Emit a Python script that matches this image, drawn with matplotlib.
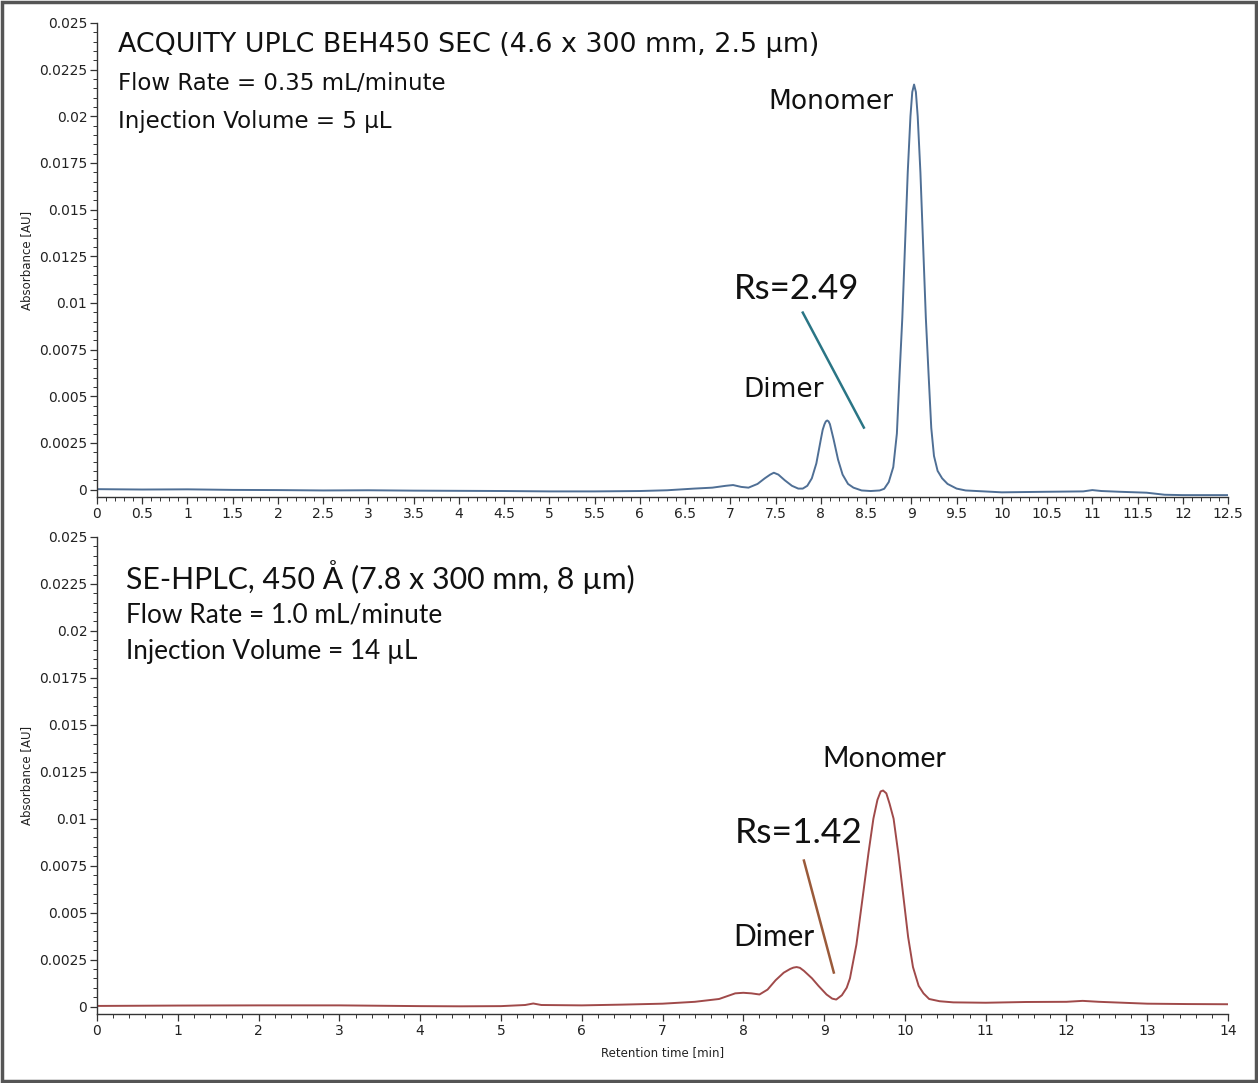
import matplotlib
matplotlib.use("Agg")
import matplotlib.pyplot as plt
from matplotlib.ticker import MultipleLocator, FuncFormatter
from matplotlib.patches import Rectangle

# ---- data ----
# top: ACQUITY UPLC BEH450 SEC
t_uplc = [0, 0.5, 1, 1.5, 2, 2.5, 3, 3.5, 4, 4.5, 5, 5.5, 6, 6.3, 6.6, 6.8, 6.95, 7.03, 7.12,
          7.2, 7.3, 7.38, 7.44, 7.48, 7.53, 7.6, 7.68, 7.75, 7.8, 7.85, 7.9, 7.95, 8.0, 8.02,
          8.04, 8.055, 8.07, 8.085, 8.1, 8.12, 8.14, 8.19, 8.24, 8.3, 8.36, 8.45, 8.55, 8.65,
          8.7, 8.75, 8.8, 8.84, 8.87, 8.9, 8.93, 8.96, 8.99, 9.01, 9.03, 9.05, 9.07, 9.1, 9.13,
          9.16, 9.19, 9.22, 9.25, 9.29, 9.34, 9.4, 9.5, 9.6, 9.8, 10, 10.5, 10.9, 11.0, 11.1,
          11.3, 11.6, 11.8, 12, 12.5]
a_uplc = [0.00002, 0.0, 0.00001, -0.00002, -0.00003, -0.00005, -0.00004, -0.00006, -0.00007,
          -0.00008, -0.0001, -0.0001, -0.00008, -0.00004, 0.00005, 0.0001, 0.0002, 0.00024,
          0.00014, 0.0001, 0.0003, 0.0006, 0.0008, 0.0009, 0.0008, 0.0005, 0.0002, 0.00005,
          0.00005, 0.0002, 0.0006, 0.0014, 0.0027, 0.0032, 0.0035, 0.00365, 0.0037, 0.00365,
          0.0035, 0.0031, 0.0027, 0.0016, 0.0008, 0.0003, 0.0001, -0.00005, -0.00008, -0.00005,
          0.00004, 0.0004, 0.0012, 0.003, 0.0062, 0.0092, 0.0131, 0.017, 0.02, 0.0213, 0.0217,
          0.0213, 0.02, 0.017, 0.0131, 0.0092, 0.0062, 0.0033, 0.0018, 0.001, 0.0006, 0.0003,
          0.00005, -0.00005, -0.0001, -0.00015, -0.00012, -0.0001, -0.00003, -0.00008,
          -0.00012, -0.00017, -0.00028, -0.0003, -0.0003]

# bottom: SE-HPLC 450 A
t_hplc = [0, 1, 2, 3, 4, 4.5, 5, 5.3, 5.4, 5.5, 6, 6.5, 7, 7.4, 7.7, 7.9, 8.0, 8.1, 8.2, 8.3,
          8.4, 8.5, 8.58, 8.62, 8.66, 8.7, 8.75, 8.85, 8.93, 9.03, 9.1, 9.15, 9.22, 9.28, 9.32,
          9.4, 9.48, 9.55, 9.61, 9.66, 9.7, 9.73, 9.77, 9.81, 9.86, 9.92, 9.98, 10.04, 10.1,
          10.17, 10.23, 10.3, 10.43, 10.6, 11, 11.5, 12, 12.2, 12.4, 13, 13.5, 14]
a_hplc = [0.00003, 0.00005, 0.00006, 0.00006, 0.00002, 0.00001, 0.00002, 0.00008, 0.00016,
          0.00008, 0.00006, 0.0001, 0.00015, 0.00025, 0.0004, 0.0007, 0.00073, 0.0007, 0.00064,
          0.0009, 0.0014, 0.0018, 0.002, 0.00207, 0.0021, 0.00206, 0.0019, 0.0015, 0.0011,
          0.00064, 0.00042, 0.00037, 0.0006, 0.001, 0.0015, 0.0033, 0.0059, 0.0082, 0.01, 0.011,
          0.01145, 0.0115, 0.01135, 0.0108, 0.01, 0.0081, 0.0059, 0.0037, 0.0021, 0.0011, 0.0007,
          0.0004, 0.00028, 0.00022, 0.0002, 0.00024, 0.00025, 0.0003, 0.00025, 0.00015, 0.00013,
          0.00012]

titles = ["ACQUITY UPLC BEH450 SEC (4.6 x 300 mm, 2.5 µm)",
          "SE-HPLC, 450 Å (7.8 x 300 mm, 8 µm)"]
flow_txt = ["Flow Rate = 0.35 mL/minute", "Flow Rate = 1.0 mL/minute"]
inj_txt = ["Injection Volume = 5 µL", "Injection Volume = 14 µL"]
rs_txt = ["Rs=2.49", "Rs=1.42"]

fig = plt.figure(figsize=(12.58, 10.83), dpi=100)
fig.patches.append(Rectangle((0.0015, 0.002), 0.997, 0.996, transform=fig.transFigure,
                             fill=False, edgecolor="#555555", linewidth=2.5))

ax1 = fig.add_axes([0.0771, 0.5411, 0.8991, 0.4377])
ax2 = fig.add_axes([0.0771, 0.0637, 0.8991, 0.4405])

ax1.plot(t_uplc, a_uplc, color="#4f6f95", lw=1.4)
ax2.plot(t_hplc, a_hplc, color="#a04a4a", lw=1.4)

fmt = FuncFormatter(lambda v, p: "%g" % round(v, 6))
for ax, xmax, xmaj, xmin in [(ax1, 12.5, 0.5, 0.1), (ax2, 14, 1, 0.2)]:
    ax.set_xlim(0, xmax)
    ax.set_ylim(-0.0004, 0.025)
    ax.xaxis.set_major_locator(MultipleLocator(xmaj))
    ax.xaxis.set_minor_locator(MultipleLocator(xmin))
    ax.yaxis.set_major_locator(MultipleLocator(0.0025))
    ax.yaxis.set_minor_locator(MultipleLocator(0.0005))
    ax.xaxis.set_major_formatter(fmt)
    ax.yaxis.set_major_formatter(fmt)
    ax.spines["top"].set_visible(False)
    ax.spines["right"].set_visible(False)
    for s in ["left", "bottom"]:
        ax.spines[s].set_color("#333333")
        ax.spines[s].set_linewidth(1.0)
    ax.tick_params(which="major", length=5, width=0.9, color="#333333",
                   labelsize=10, labelcolor="#222222", pad=2)
    ax.tick_params(which="minor", length=3, width=0.7, color="#333333")
    ax.set_ylabel("Absorbance [AU]", fontsize=8.5, color="#222222")
    ax.yaxis.set_label_coords(-0.0566, 0.5)

ax2.set_xlabel("Retention time [min]", fontsize=8.5, color="#222222", labelpad=6)

# header text blocks
ax1.text(0.0186, 0.954, titles[0], transform=ax1.transAxes, fontsize=19.4, va="center",
         color="#111111")
ax1.text(0.0186, 0.873, flow_txt[0], transform=ax1.transAxes, fontsize=16.5, va="center",
         color="#111111")
ax1.text(0.0186, 0.793, inj_txt[0], transform=ax1.transAxes, fontsize=16.5, va="center",
         color="#111111")
ax2.text(0.0256, 0.916, titles[1], transform=ax2.transAxes, fontsize=21.8, va="center",
         color="#111111", family="Lato")
ax2.text(0.0256, 0.836, flow_txt[1], transform=ax2.transAxes, fontsize=18.9, va="center",
         color="#111111", family="Lato")
ax2.text(0.0256, 0.759, inj_txt[1], transform=ax2.transAxes, fontsize=18.8, va="center",
         color="#111111", family="Lato")

# peak labels and resolution markers
ax1.text(7.73, 0.01076, rs_txt[0], fontsize=25, ha="center", va="center", color="#111111",
         family="Lato")
ax1.text(7.59, 0.00535, "Dimer", fontsize=19, ha="center", va="center", color="#111111")
ax1.text(8.11, 0.02077, "Monomer", fontsize=19, ha="center", va="center", color="#111111")
ax1.plot([7.80, 8.475], [0.00948, 0.00332], color="#2a7585", lw=1.8)

ax2.text(8.69, 0.00926, rs_txt[1], fontsize=25.5, ha="center", va="center", color="#111111",
         family="Lato")
ax2.text(8.38, 0.00372, "Dimer", fontsize=21.5, ha="center", va="center", color="#111111",
         family="Lato")
ax2.text(9.74, 0.01319, "Monomer", fontsize=20.5, ha="center", va="center", color="#111111",
         family="Lato")
ax2.plot([8.75, 9.12], [0.00777, 0.00181], color="#9a5a3a", lw=1.8)

fig.savefig("out.png", dpi=100)
